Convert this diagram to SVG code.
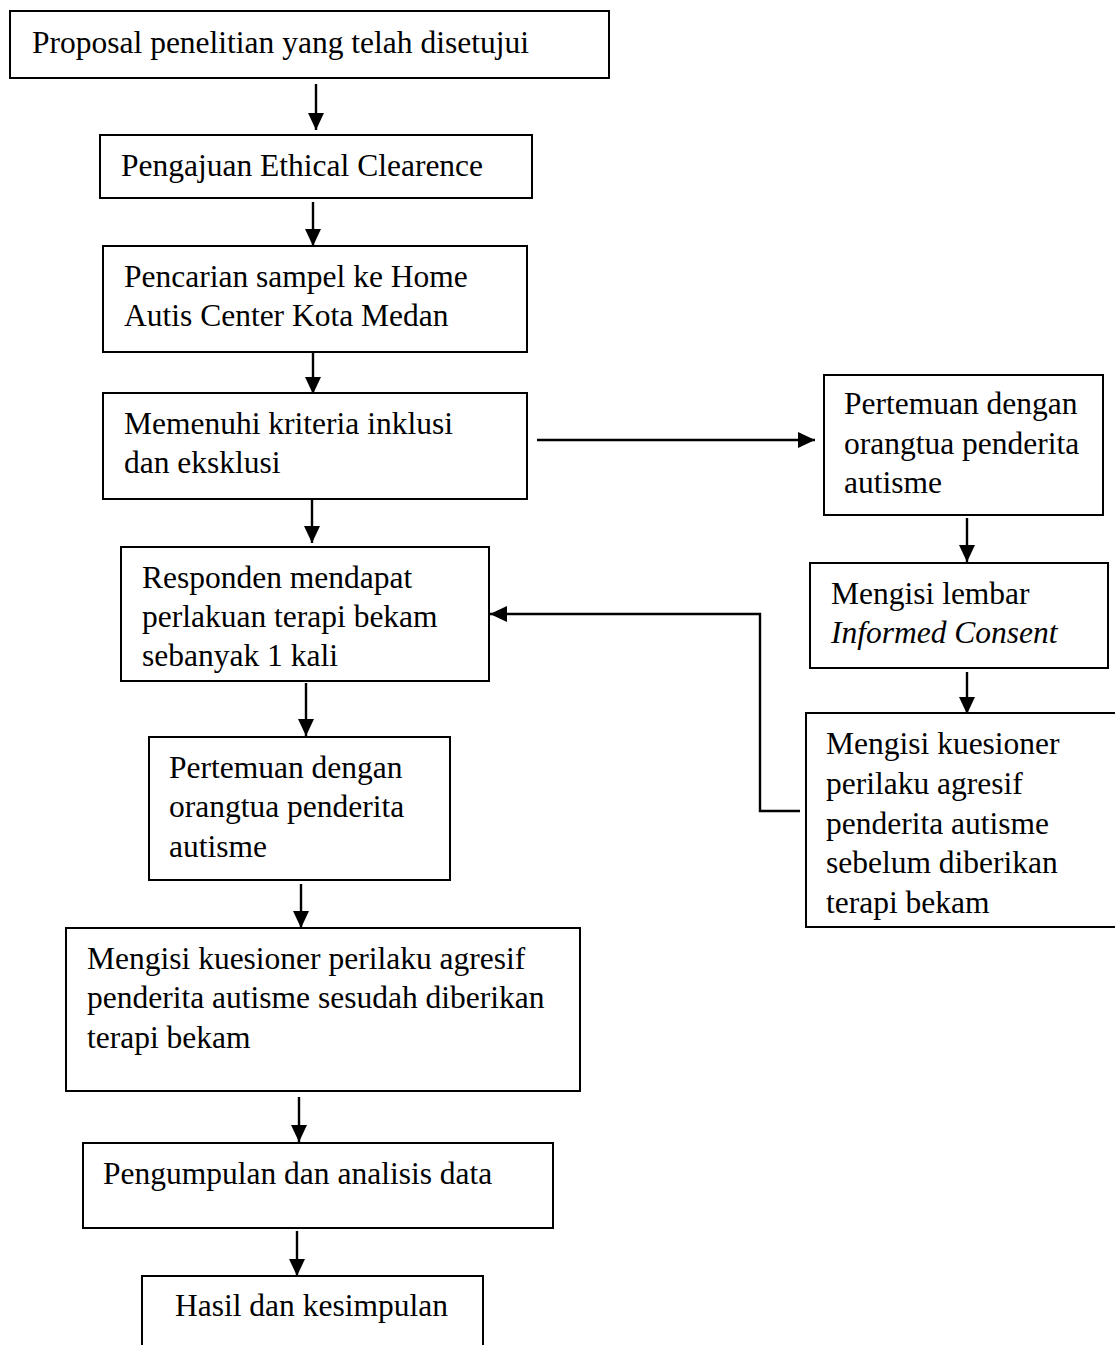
<svg xmlns="http://www.w3.org/2000/svg" width="1115" height="1345" viewBox="0 0 1115 1345">
<defs>
<style>
.box{fill:#fff;stroke:#000;stroke-width:2}
.t{font-family:"Liberation Serif","Times New Roman",serif;font-size:31.5px;fill:#000}
.i{font-style:italic}
.c{fill:none;stroke:#000;stroke-width:2.4}
</style>
<marker id="ah" markerUnits="userSpaceOnUse" markerWidth="17" markerHeight="16" refX="17" refY="8" orient="auto">
<path d="M0,0 L17,8 L0,16 z" fill="#000"/>
</marker>
</defs>
<rect width="1115" height="1345" fill="#fff"/>
<g id="connectors">
<line class="c" x1="316" y1="84" x2="316" y2="130" marker-end="url(#ah)"/>
<line class="c" x1="313" y1="202" x2="313" y2="246" marker-end="url(#ah)"/>
<line class="c" x1="313" y1="352" x2="313" y2="394" marker-end="url(#ah)"/>
<line class="c" x1="312" y1="500" x2="312" y2="543" marker-end="url(#ah)"/>
<line class="c" x1="537" y1="440" x2="815" y2="440" marker-end="url(#ah)"/>
<line class="c" x1="967" y1="518" x2="967" y2="562" marker-end="url(#ah)"/>
<line class="c" x1="967" y1="672" x2="967" y2="714" marker-end="url(#ah)"/>
<polyline class="c" points="800,811 760,811 760,614 490,614" marker-end="url(#ah)"/>
<line class="c" x1="306" y1="683" x2="306" y2="736" marker-end="url(#ah)"/>
<line class="c" x1="301" y1="884" x2="301" y2="928" marker-end="url(#ah)"/>
<line class="c" x1="299" y1="1097" x2="299" y2="1142" marker-end="url(#ah)"/>
<line class="c" x1="297" y1="1231" x2="297" y2="1276" marker-end="url(#ah)"/>
</g>
<g id="n1"><rect class="box" x="10" y="11" width="599" height="67"/><text class="t" x="32" y="53">Proposal penelitian yang telah disetujui</text></g>
<g id="n2"><rect class="box" x="100" y="135" width="432" height="63"/><text class="t" x="121" y="176">Pengajuan Ethical Clearence</text></g>
<g id="n3"><rect class="box" x="103" y="246" width="424" height="106"/><text class="t" x="124" y="287">Pencarian sampel ke Home</text><text class="t" x="124" y="326">Autis Center Kota Medan</text></g>
<g id="n4"><rect class="box" x="103" y="393" width="424" height="106"/><text class="t" x="124" y="434">Memenuhi kriteria inklusi</text><text class="t" x="124" y="473">dan eksklusi</text></g>
<g id="n5"><rect class="box" x="121" y="547" width="368" height="134"/><text class="t" x="142" y="588">Responden mendapat</text><text class="t" x="142" y="627">perlakuan terapi bekam</text><text class="t" x="142" y="666">sebanyak 1 kali</text></g>
<g id="n6"><rect class="box" x="149" y="737" width="301" height="143"/><text class="t" x="169" y="778">Pertemuan dengan</text><text class="t" x="169" y="817">orangtua penderita</text><text class="t" x="169" y="857">autisme</text></g>
<g id="n7"><rect class="box" x="66" y="928" width="514" height="163"/><text class="t" x="87" y="969">Mengisi kuesioner perilaku agresif</text><text class="t" x="87" y="1008">penderita autisme sesudah diberikan</text><text class="t" x="87" y="1048">terapi bekam</text></g>
<g id="n8"><rect class="box" x="83" y="1143" width="470" height="85"/><text class="t" x="103" y="1184">Pengumpulan dan analisis data</text></g>
<g id="n9"><rect class="box" x="142" y="1276" width="341" height="90"/><text class="t" x="175" y="1316">Hasil dan kesimpulan</text></g>
<g id="r1"><rect class="box" x="824" y="375" width="279" height="140"/><text class="t" x="844" y="414">Pertemuan dengan</text><text class="t" x="844" y="454">orangtua penderita</text><text class="t" x="844" y="493">autisme</text></g>
<g id="r2"><rect class="box" x="810" y="563" width="298" height="105"/><text class="t" x="831" y="604">Mengisi lembar</text><text class="t i" x="831" y="643">Informed Consent</text></g>
<g id="r3"><rect class="box" x="806" y="713" width="320" height="214"/><text class="t" x="826" y="754">Mengisi kuesioner</text><text class="t" x="826" y="794">perilaku agresif</text><text class="t" x="826" y="834">penderita autisme</text><text class="t" x="826" y="873">sebelum diberikan</text><text class="t" x="826" y="913">terapi bekam</text></g>
</svg>
